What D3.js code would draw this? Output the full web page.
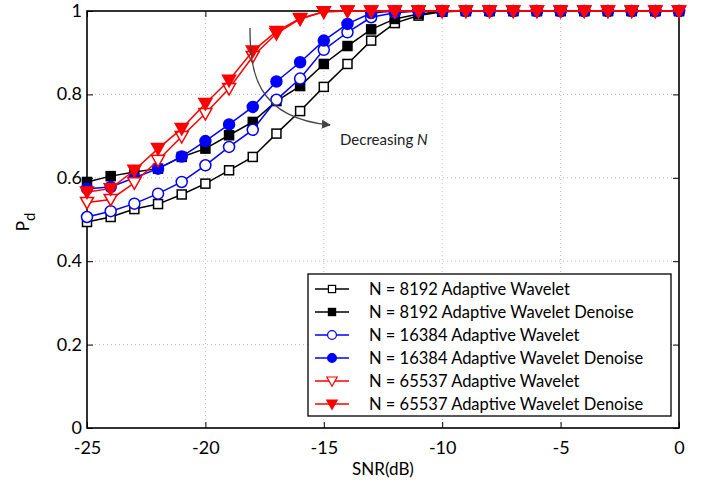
<!DOCTYPE html>
<html>
<head>
<meta charset="utf-8">
<script src="https://cdn.jsdelivr.net/npm/d3@7"></script>
<style>
  body { margin: 0; background: #fff; }
  svg { display: block; font-family: Lato, "Open Sans", sans-serif; }
</style>
</head>
<body>
<div id="chart"></div>
<script>
// SNR in dB, one point per dB
var snr = d3.range(-25, 1, 1);

// detection probability
var aw8192 = [0.494, 0.506, 0.525, 0.537, 0.560, 0.586, 0.618, 0.650, 0.706, 0.760, 0.818, 0.873, 0.929, 0.971, 0.989, 0.998,
  1, 1, 1, 1, 1, 1, 1, 1, 1, 1];
var awd8192 = [0.590, 0.604, 0.614, 0.622, 0.650, 0.670, 0.702, 0.734, 0.784, 0.820, 0.873, 0.916, 0.956, 0.981, 0.993, 0.999,
  1, 1, 1, 1, 1, 1, 1, 1, 1, 1];
var aw16384 = [0.506, 0.520, 0.538, 0.562, 0.590, 0.630, 0.674, 0.715, 0.787, 0.838, 0.907, 0.949, 0.985, 0.996, 1, 1,
  1, 1, 1, 1, 1, 1, 1, 1, 1, 1];
var awd16384 = [0.574, 0.578, 0.600, 0.622, 0.651, 0.688, 0.728, 0.770, 0.831, 0.877, 0.929, 0.969, 0.995, 1, 1, 1,
  1, 1, 1, 1, 1, 1, 1, 1, 1, 1];
var aw65537 = [0.541, 0.548, 0.588, 0.642, 0.699, 0.754, 0.814, 0.891, 0.946, 0.981, 0.998, 1, 1, 1, 1, 1,
  1, 1, 1, 1, 1, 1, 1, 1, 1, 1];
var awd65537 = [0.566, 0.574, 0.618, 0.670, 0.718, 0.778, 0.834, 0.904, 0.951, 0.982, 0.998, 1, 1, 1, 1, 1,
  1, 1, 1, 1, 1, 1, 1, 1, 1, 1];

var seriesNames = ["N = 8192 Adaptive Wavelet", "N = 8192 Adaptive Wavelet Denoise",
  "N = 16384 Adaptive Wavelet", "N = 16384 Adaptive Wavelet Denoise",
  "N = 65537 Adaptive Wavelet", "N = 65537 Adaptive Wavelet Denoise"];
var seriesValues = [aw8192, awd8192, aw16384, awd16384, aw65537, awd65537];
var seriesColors = ["#000", "#000", "#0000ff", "#0000ff", "#ff0000", "#ff0000"];
var seriesMarkers = ["square", "square", "circle", "circle", "triangle", "triangle"];
var seriesFilled = [false, true, false, true, false, true];

var xTicks = [-25, -20, -15, -10, -5, 0];
var yTicks = [0, 0.2, 0.4, 0.6, 0.8, 1];

var W = 710, H = 483;
var margin = {top: 11, right: 31, bottom: 55, left: 87};
var width = W - margin.left - margin.right,
    height = H - margin.top - margin.bottom;

var svg = d3.select("#chart").append("svg")
    .attr("width", W).attr("height", H);
var g = svg.append("g")
    .attr("transform", `translate(${margin.left}, ${margin.top})`);

var x = d3.scaleLinear().domain([-25, 0]).range([0, width]);
var y = d3.scaleLinear().domain([0, 1]).range([height, 0]);

// dotted grid
g.append("g").selectAll("line").data(xTicks.slice(1, -1)).enter().append("line")
    .attr("x1", d => x(d)).attr("x2", d => x(d)).attr("y1", 0).attr("y2", height)
    .attr("stroke", "#bbb").attr("stroke-dasharray", "1,3");
g.append("g").selectAll("line").data(yTicks.slice(1, -1)).enter().append("line")
    .attr("y1", d => y(d)).attr("y2", d => y(d)).attr("x1", 0).attr("x2", width)
    .attr("stroke", "#bbb").attr("stroke-dasharray", "1,3");

// axes with inward ticks, matlab box style
var xAxis = g.append("g").attr("transform", `translate(0, ${height})`)
    .call(d3.axisBottom(x).tickValues(xTicks).tickSizeInner(-6).tickSizeOuter(0).tickPadding(13)
      .tickFormat(d => String(d)));
var xTop = g.append("g")
    .call(d3.axisTop(x).tickValues(xTicks).tickSizeInner(-6).tickSizeOuter(0).tickFormat(""));
var yAxis = g.append("g")
    .call(d3.axisLeft(y).tickValues(yTicks).tickSizeInner(-6).tickSizeOuter(0).tickPadding(5)
      .tickFormat(d => String(d)));
var yRight = g.append("g").attr("transform", `translate(${width}, 0)`)
    .call(d3.axisRight(y).tickValues(yTicks).tickSizeInner(-6).tickSizeOuter(0).tickFormat(""));

[xAxis, xTop, yAxis, yRight].forEach(function(a) {
  a.select(".domain").remove();
  a.selectAll("line").attr("stroke", "#000").attr("stroke-width", 1);
  a.selectAll("text").attr("font-size", 18).attr("fill", "#000")
    .attr("font-family", "Lato, 'Open Sans', sans-serif");
});
yAxis.selectAll("text").attr("dy", "0.3em");

g.append("rect").attr("width", width).attr("height", height)
    .attr("fill", "none").attr("stroke", "#000").attr("stroke-width", 1.6);

// axis labels
svg.append("text").attr("x", margin.left + width / 2).attr("y", 475)
    .attr("text-anchor", "middle").attr("font-size", 17).text("SNR(dB)");
var ylab = svg.append("text")
    .attr("transform", "translate(29, 222) rotate(-90)")
    .attr("text-anchor", "middle").attr("font-size", 17);
ylab.append("tspan").text("P");
ylab.append("tspan").attr("dy", 6).attr("font-size", 15).text("d");

// markers
function drawMarker(sel, kind, color, filled) {
  var fill = filled ? color : "#fff";
  if (kind === "square") {
    sel.append("rect").attr("x", -4.5).attr("y", -4.5).attr("width", 9).attr("height", 9)
      .attr("fill", fill).attr("stroke", color).attr("stroke-width", 1.5);
  } else if (kind === "circle") {
    sel.append("circle").attr("r", 5.5)
      .attr("fill", fill).attr("stroke", color).attr("stroke-width", 1.5);
  } else {
    sel.append("path").attr("d", "M-6.5,-5L6.5,-5L0,6.5Z")
      .attr("fill", fill).attr("stroke", color).attr("stroke-width", 1.5);
  }
}

var line = d3.line().x((d, i) => x(snr[i])).y(d => y(d));

seriesValues.forEach(function(vals, k) {
  var s = g.append("g");
  s.append("path").datum(vals).attr("d", line)
    .attr("fill", "none").attr("stroke", seriesColors[k]).attr("stroke-width", 1.5);
  s.selectAll("g.m").data(vals).enter().append("g").attr("class", "m")
    .attr("transform", (d, i) => `translate(${x(snr[i])}, ${y(d)})`)
    .each(function() { drawMarker(d3.select(this), seriesMarkers[k], seriesColors[k], seriesFilled[k]); });
});

// annotation arrow
svg.append("defs").append("marker").attr("id", "ah")
    .attr("viewBox", "0 0 10 10").attr("refX", 9).attr("refY", 5)
    .attr("markerWidth", 7).attr("markerHeight", 7).attr("orient", "auto")
  .append("path").attr("d", "M0,0L10,5L0,10Z").attr("fill", "#444");
svg.append("path")
    .attr("d", "M250,28 C250,70 255,118 330,125")
    .attr("fill", "none").attr("stroke", "#444").attr("stroke-width", 1.3)
    .attr("marker-end", "url(#ah)");
var ann = svg.append("text").attr("x", 340).attr("y", 145).attr("font-size", 15).attr("fill", "#222");
ann.append("tspan").text("Decreasing ");
ann.append("tspan").attr("font-style", "italic").text("N");

// legend
var lg = svg.append("g").attr("transform", "translate(308, 274)");
lg.append("rect").attr("width", 363).attr("height", 142)
    .attr("fill", "#fff").attr("stroke", "#000").attr("stroke-width", 1.3);
seriesNames.forEach(function(name, k) {
  var row = lg.append("g").attr("transform", `translate(0, ${15 + k * 23})`);
  row.append("line").attr("x1", 7).attr("x2", 41)
    .attr("stroke", seriesColors[k]).attr("stroke-width", 1.5);
  var m = row.append("g").attr("transform", "translate(24, 0) scale(0.8)");
  drawMarker(m, seriesMarkers[k], seriesColors[k], seriesFilled[k]);
  row.append("text").attr("x", 61).attr("dy", "0.35em").attr("font-size", 16.5).text(name);
});
</script>
</body>
</html>
